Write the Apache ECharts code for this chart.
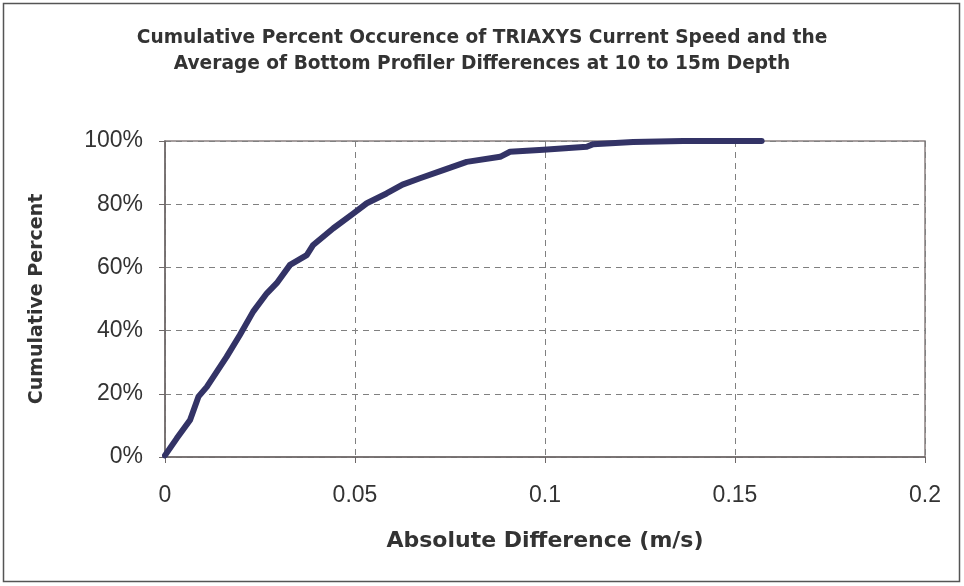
<!DOCTYPE html>
<html>
<head>
<meta charset="utf-8">
<script src="https://cdn.jsdelivr.net/npm/echarts@6/dist/echarts.min.js"></script>
<style>
  html, body { margin: 0; padding: 0; background: #fff; }
  #main { width: 964px; height: 586px; }
</style>
</head>
<body>
<div id="main"></div>
<script>
// absolute difference (m/s) and cumulative percent
var diffs = [0, 0.0031, 0.0066, 0.0088, 0.011, 0.0162, 0.0197, 0.0232, 0.0268, 0.0294,
    0.0329, 0.0373, 0.039, 0.0443, 0.0496, 0.0531, 0.0583, 0.0625, 0.0671, 0.0732,
    0.0794, 0.0882, 0.0908, 0.0996, 0.111, 0.1127, 0.1232, 0.1364, 0.157];
var cumPct = [0.5, 5.9, 11.7, 19.1, 22.2, 31.7, 38.6, 46, 51.8, 55,
    60.8, 63.9, 67.1, 72.4, 77.1, 80.3, 83.4, 86.2, 88.2, 90.8,
    93.4, 95, 96.6, 97.2, 98.2, 99, 99.7, 100, 100];
var xTicks = [0, 0.05, 0.1, 0.15, 0.2];

var chart = echarts.init(document.getElementById('main'));
var plainFont = 'Liberation Sans, Arial, sans-serif';
var boldFont = 'DejaVu Sans, sans-serif';

var option = {
    backgroundColor: '#fff',
    animation: false,
    title: {
        text: 'Cumulative Percent Occurence of TRIAXYS Current Speed and the\nAverage of Bottom Profiler Differences at 10 to 15m Depth',
        left: 'center',
        top: 25,
        padding: 0,
        textStyle: { fontSize: 18.6, fontWeight: 'bold', color: '#333', fontFamily: boldFont, lineHeight: 26 }
    },
    graphic: [{
        type: 'rect',
        shape: { x: 3.5, y: 3.5, width: 956, height: 578 },
        style: { fill: 'none', stroke: '#555', lineWidth: 1.5 },
        silent: true
    }],
    grid: {
        left: 165, right: 39, top: 141, bottom: 129,
        show: true, borderColor: '#8a8080', borderWidth: 1.5, backgroundColor: '#fff'
    },
    xAxis: {
        type: 'value',
        min: 0, max: 0.2, interval: 0.05,
        name: 'Absolute Difference (m/s)',
        nameLocation: 'middle',
        nameGap: 73,
        nameTextStyle: { fontSize: 22, fontWeight: 'bold', color: '#333', fontFamily: boldFont },
        axisLine: { lineStyle: { color: '#6e6868', width: 1.5 } },
        axisTick: { show: true, length: 6, lineStyle: { color: '#6e6868' } },
        axisLabel: {
            fontSize: 23, color: '#333', fontFamily: plainFont, margin: 27,
            formatter: function (v) { return String(+v.toFixed(2)); }
        },
        splitLine: { show: true, lineStyle: { color: '#808080', type: [6, 5], width: 1 } }
    },
    yAxis: {
        type: 'value',
        min: 0, max: 100, interval: 20,
        name: 'Cumulative Percent',
        nameLocation: 'middle',
        nameGap: 118,
        nameTextStyle: { fontSize: 19, fontWeight: 'bold', color: '#333', fontFamily: boldFont },
        axisLine: { show: true, lineStyle: { color: '#6e6868', width: 1.5 } },
        axisTick: { show: true, length: 6, lineStyle: { color: '#6e6868' } },
        axisLabel: {
            fontSize: 23, color: '#333', fontFamily: plainFont, margin: 22,
            formatter: '{value}%'
        },
        splitLine: { show: true, lineStyle: { color: '#808080', type: [6, 5], width: 1 } }
    },
    series: [{
        type: 'line',
        data: diffs.map(function (d, i) { return [d, cumPct[i]]; }),
        showSymbol: false,
        lineStyle: { color: '#333366', width: 6, cap: 'round', join: 'round' },
        clip: false
    }]
};
chart.setOption(option);
</script>
</body>
</html>
